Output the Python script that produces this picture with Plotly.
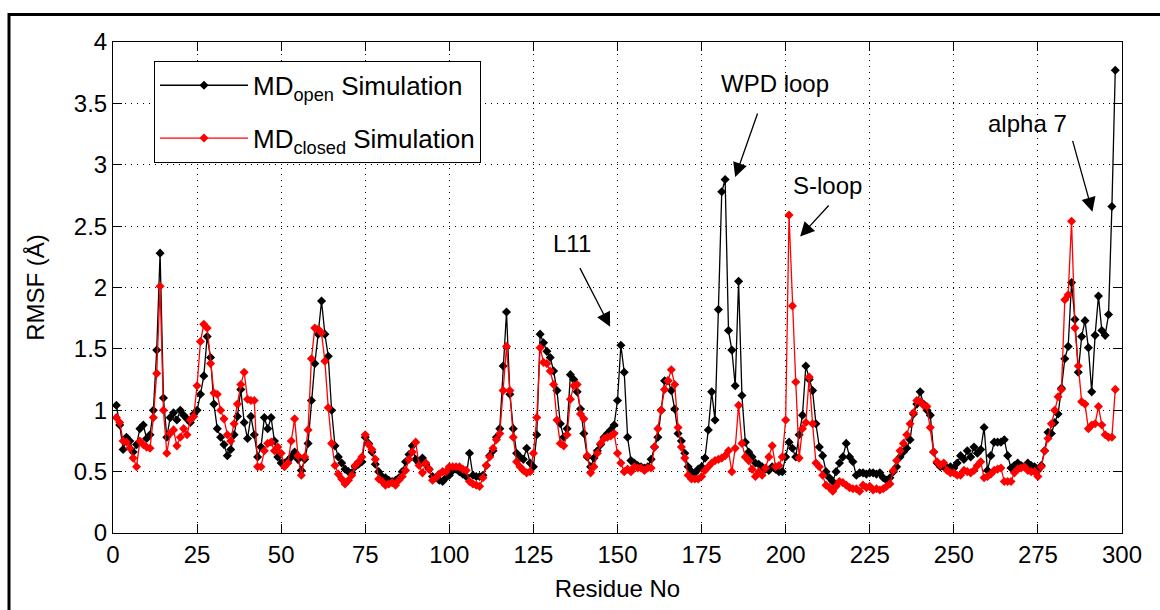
import plotly.graph_objects as go

residue_no = list(range(1, 299))

rmsf_open = [
    1.04, 0.88, 0.68, 0.78, 0.75, 0.66, 0.72, 0.85, 0.88, 0.77,
    0.80, 1.00, 1.49, 2.28, 1.10, 0.78, 0.94, 0.98, 0.92, 1.00,
    0.96, 0.93, 0.90, 0.97, 1.00, 1.13, 1.28, 1.60, 1.43, 1.05,
    0.85, 0.78, 0.72, 0.63, 0.68, 0.80, 0.95, 1.17, 0.90, 0.77,
    0.95, 0.80, 0.62, 0.70, 0.94, 0.85, 0.94, 0.75, 0.62, 0.57,
    0.57, 0.59, 0.62, 0.66, 0.60, 0.51, 0.60, 0.73, 1.08, 1.38,
    1.62, 1.89, 1.62, 1.44, 1.00, 0.71, 0.62, 0.57, 0.52, 0.50,
    0.49, 0.54, 0.56, 0.58, 0.78, 0.73, 0.66, 0.56, 0.50, 0.46,
    0.45, 0.43, 0.42, 0.43, 0.45, 0.50, 0.58, 0.64, 0.71, 0.60,
    0.57, 0.61, 0.56, 0.52, 0.46, 0.45, 0.43, 0.42, 0.45, 0.47,
    0.51, 0.52, 0.50, 0.48, 0.46, 0.65, 0.47, 0.46, 0.46, 0.47,
    0.55, 0.63, 0.67, 0.78, 0.85, 1.36, 1.80, 1.13, 0.85, 0.65,
    0.62, 0.60, 0.69, 0.57, 0.54, 0.80, 1.62, 1.55, 1.48, 1.43,
    1.32, 1.16, 0.89, 0.78, 0.85, 1.29, 1.25, 1.15, 1.01, 0.81,
    0.62, 0.54, 0.61, 0.67, 0.72, 0.78, 0.81, 0.84, 0.88, 1.08,
    1.53, 1.31, 0.78, 0.59, 0.57, 0.55, 0.54, 0.53, 0.54, 0.60,
    0.70, 0.78, 1.00, 1.24, 1.24, 1.16, 1.01, 0.81, 0.75, 0.65,
    0.54, 0.50, 0.49, 0.52, 0.54, 0.61, 0.84, 1.15, 0.92, 1.82,
    2.78, 2.88, 1.65, 1.49, 1.20, 2.05, 1.12, 0.74, 0.66, 0.62,
    0.57, 0.56, 0.54, 0.52, 0.51, 0.54, 0.52, 0.50, 0.50, 0.62,
    0.74, 0.69, 0.62, 0.80, 0.96, 1.36, 1.25, 1.16, 0.89, 0.70,
    0.63, 0.50, 0.45, 0.42, 0.50, 0.57, 0.62, 0.73, 0.62, 0.58,
    0.47, 0.49, 0.49, 0.48, 0.49, 0.49, 0.48, 0.49, 0.45, 0.43,
    0.45, 0.50, 0.54, 0.62, 0.66, 0.69, 0.76, 0.97, 1.05, 1.15,
    1.05, 1.00, 0.96, 0.66, 0.57, 0.54, 0.54, 0.53, 0.54, 0.53,
    0.57, 0.63, 0.60, 0.67, 0.62, 0.70, 0.65, 0.68, 0.86, 0.51,
    0.63, 0.74, 0.74, 0.74, 0.76, 0.63, 0.53, 0.55, 0.57, 0.55,
    0.54, 0.57, 0.55, 0.54, 0.51, 0.55, 0.67, 0.82, 0.81, 0.90,
    0.97, 1.18, 1.42, 1.52, 2.04, 1.74, 1.31, 1.60, 1.73, 1.51,
    1.15, 1.61, 1.93, 1.65, 1.61, 1.78, 2.66, 3.77,
]

rmsf_closed = [
    0.94, 0.90, 0.75, 0.74, 0.69, 0.61, 0.54, 0.75, 0.72, 0.70,
    0.69, 0.94, 1.30, 2.01, 1.00, 0.65, 0.81, 0.84, 0.71, 0.78,
    0.85, 0.80, 0.92, 0.95, 1.20, 1.56, 1.70, 1.67, 1.38, 1.14,
    1.13, 1.00, 0.93, 0.80, 0.75, 0.89, 1.05, 1.21, 1.31, 1.09,
    1.08, 1.08, 0.54, 0.54, 0.67, 0.73, 0.74, 0.67, 0.70, 0.65,
    0.54, 0.57, 0.75, 0.93, 0.63, 0.47, 0.62, 0.84, 1.42, 1.67,
    1.66, 1.63, 1.40, 1.02, 0.73, 0.55, 0.48, 0.44, 0.40, 0.43,
    0.47, 0.55, 0.58, 0.62, 0.80, 0.72, 0.68, 0.60, 0.44, 0.42,
    0.39, 0.40, 0.41, 0.39, 0.43, 0.46, 0.51, 0.60, 0.66, 0.74,
    0.55, 0.49, 0.57, 0.52, 0.43, 0.45, 0.48, 0.50, 0.50, 0.54,
    0.54, 0.54, 0.54, 0.52, 0.51, 0.42, 0.40, 0.39, 0.38, 0.45,
    0.55, 0.62, 0.69, 0.76, 0.81, 1.16, 1.52, 1.16, 0.78, 0.58,
    0.54, 0.51, 0.49, 0.50, 0.65, 0.94, 1.51, 1.39, 1.38, 1.32,
    1.21, 0.92, 0.73, 0.71, 0.80, 1.09, 1.20, 1.21, 0.97, 0.93,
    0.63, 0.49, 0.54, 0.65, 0.73, 0.77, 0.78, 0.79, 0.81, 0.65,
    0.57, 0.50, 0.52, 0.50, 0.54, 0.53, 0.53, 0.51, 0.53, 0.53,
    0.70, 0.85, 1.00, 1.17, 1.24, 1.33, 1.21, 0.86, 0.70, 0.61,
    0.47, 0.44, 0.44, 0.44, 0.46, 0.51, 0.54, 0.57, 0.59, 0.60,
    0.61, 0.63, 0.67, 0.50, 0.69, 1.04, 0.73, 0.62, 0.59, 0.52,
    0.46, 0.50, 0.47, 0.53, 0.62, 0.71, 0.54, 0.55, 0.62, 0.92,
    2.59, 1.85, 1.23, 0.61, 0.85, 0.90, 1.27, 0.89, 0.57, 0.54,
    0.47, 0.39, 0.37, 0.34, 0.38, 0.42, 0.41, 0.39, 0.37, 0.36,
    0.36, 0.34, 0.39, 0.37, 0.38, 0.35, 0.36, 0.35, 0.36, 0.38,
    0.40, 0.51, 0.59, 0.67, 0.73, 0.80, 0.89, 0.98, 1.08, 1.07,
    1.04, 1.03, 0.86, 0.66, 0.58, 0.55, 0.57, 0.51, 0.49, 0.49,
    0.47, 0.47, 0.51, 0.50, 0.49, 0.51, 0.55, 0.58, 0.45, 0.46,
    0.48, 0.51, 0.52, 0.53, 0.42, 0.42, 0.42, 0.49, 0.52, 0.53,
    0.54, 0.51, 0.50, 0.50, 0.46, 0.54, 0.67, 0.77, 0.89, 1.00,
    1.11, 1.17, 1.90, 1.94, 2.54, 1.67, 1.36, 1.07, 1.05, 0.85,
    0.88, 0.89, 1.03, 0.88, 0.80, 0.78, 0.78, 1.17,
]

series_names = ["MD<sub>open</sub> Simulation", "MD<sub>closed</sub> Simulation"]
x_ticks = [0, 25, 50, 75, 100, 125, 150, 175, 200, 225, 250, 275, 300]
y_ticks = [0, 0.5, 1, 1.5, 2, 2.5, 3, 3.5, 4]
y_tick_text = ["0", "0.5", "1", "1.5", "2", "2.5", "3", "3.5", "4"]

FONT = "Liberation Sans, Arial, sans-serif"
FS = 24

fig = go.Figure()
fig.add_trace(go.Scatter(
    x=residue_no, y=rmsf_open, name=series_names[0], mode="lines+markers",
    line=dict(color="black", width=1.3),
    marker=dict(symbol="diamond", size=7, color="black"),
    legendgroup="a",
))
fig.add_trace(go.Scatter(
    x=residue_no, y=rmsf_closed, name=series_names[1], mode="lines+markers",
    line=dict(color="#ff0000", width=1.3),
    marker=dict(symbol="diamond", size=7, color="#ff0000"),
    legendgroup="b",
))

axis_common = dict(
    showline=True, linecolor="black", linewidth=1, mirror="ticks",
    ticks="inside", ticklen=9, tickwidth=1, tickcolor="black",
    showgrid=True, gridcolor="black", gridwidth=1, griddash="1px,5px",
    zeroline=False,
    tickfont=dict(family=FONT, size=FS, color="black"),
)

fig.update_xaxes(
    range=[0, 300], tickvals=x_ticks, ticktext=[str(t) for t in x_ticks],
    title=dict(text="Residue No", font=dict(family=FONT, size=FS, color="black"), standoff=13),
    **axis_common,
)
fig.update_yaxes(
    range=[0, 4], tickvals=y_ticks, ticktext=y_tick_text,
    title=dict(text="RMSF (Å)", font=dict(family=FONT, size=FS, color="black"), standoff=22),
    **axis_common,
)

def note(text, x, y):
    fig.add_annotation(x=x, y=y, xref="x", yref="y", text=text, showarrow=False,
                       font=dict(family=FONT, size=FS, color="black"))

def arrow(x_tail, y_tail, x_tip, y_tip):
    fig.add_annotation(x=x_tip, y=y_tip, ax=x_tail, ay=y_tail, xref="x", yref="y",
                       axref="x", ayref="y", text="", showarrow=True,
                       arrowhead=2, arrowsize=2.2, arrowwidth=1.3, arrowcolor="black")

note("L11", 136.5, 2.36)
arrow(138.6, 2.17, 147.8, 1.68)
note("WPD loop", 196.9, 3.66)
arrow(191.8, 3.43, 185.0, 2.90)
note("S-loop", 212.4, 2.835)
arrow(213.2, 2.68, 204.3, 2.415)
note("alpha 7", 271.8, 3.337)
arrow(285.2, 3.207, 291.2, 2.617)

# outer figure frame (extends past right and bottom edges)
W, H = 1160, 610
ml, mr, mt, mb = 113, 38, 42, 73
pw, ph = W - ml - mr, H - mt - mb
fig.add_shape(type="rect", xref="paper", yref="paper",
              x0=(9 - ml) / pw, x1=(1180 - ml) / pw,
              y0=(H - mb - 630) / ph, y1=(H - mb - 14.3) / ph,
              line=dict(color="black", width=3), fillcolor="rgba(0,0,0,0)", layer="above")

fig.update_layout(
    width=W, height=H,
    margin=dict(l=ml, r=mr, t=mt, b=mb, pad=0),
    paper_bgcolor="white", plot_bgcolor="white",
    font=dict(family=FONT, size=FS, color="black"),
    showlegend=True,
    legend=dict(
        x=(154 - ml) / pw, y=(H - mb - 61) / ph, xanchor="left", yanchor="top",
        bgcolor="white", bordercolor="black", borderwidth=1,
        font=dict(family=FONT, size=26, color="black"),
        itemwidth=88, tracegroupgap=16,
    ),
)

fig.write_html("out.html", config={"displayModeBar": False})
